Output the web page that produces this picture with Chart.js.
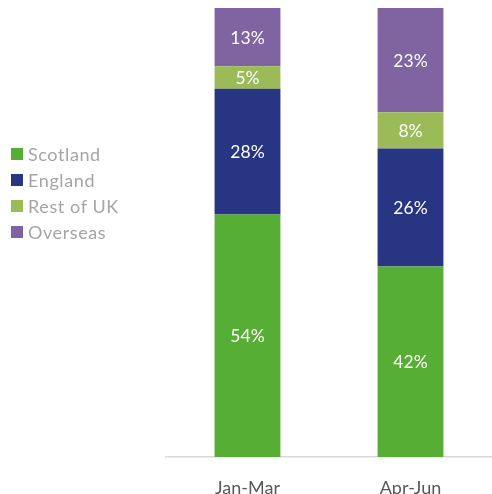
<!DOCTYPE html>
<html>
<head>
<meta charset="utf-8">
<script src="https://cdn.jsdelivr.net/npm/chart.js@4/dist/chart.umd.min.js"></script>
<style>
  html, body { margin: 0; padding: 0; background: #fff; }
  #wrap { position: relative; width: 492px; height: 494px; }
  #legend { position: absolute; left: 11px; top: 141px; font-family: Lato, "Liberation Sans", sans-serif; font-size: 18px; color: #a5a5a5; letter-spacing: 0.6px; }
  .item { display: flex; align-items: center; height: 26px; }
  .box { width: 12px; height: 12px; margin-right: 5px; }
</style>
</head>
<body>
<div id="wrap">
  <canvas id="c" width="492" height="494"></canvas>
  <div id="legend"></div>
</div>
<script>
// Quarters and each region's share of visitors (%)
const categories = ['Jan-Mar', 'Apr-Jun'];
const scotland   = [54, 42];
const england    = [28, 26];
const restOfUK   = [5, 8];
const overseas   = [13, 23];

const seriesNames  = ['Scotland', 'England', 'Rest of UK', 'Overseas'];
const seriesValues = [scotland, england, restOfUK, overseas];
const seriesColors = ['#57ae35', '#283583', '#9bbb59', '#8064a2'];

// Each bar is scaled so its segments fill 100%
const totals = categories.map((_, i) => seriesValues.reduce((s, v) => s + v[i], 0));

const datasets = seriesNames.map((name, k) => ({
  label: name,
  data: seriesValues[k].map((v, i) => v / totals[i] * 100),
  raw: seriesValues[k],
  backgroundColor: seriesColors[k],
  borderWidth: 0,
  barPercentage: 1,
  categoryPercentage: 0.404
}));

// White percentage labels centred in each segment
const segmentLabels = {
  id: 'segmentLabels',
  afterDatasetsDraw(chart) {
    const ctx = chart.ctx;
    ctx.save();
    ctx.fillStyle = '#ffffff';
    ctx.font = '17.5px Lato, "Liberation Sans", sans-serif';
    ctx.textAlign = 'center';
    ctx.textBaseline = 'middle';
    chart.data.datasets.forEach((ds, k) => {
      chart.getDatasetMeta(k).data.forEach((bar, i) => {
        const mid = (bar.y + bar.base) / 2;
        ctx.fillText(ds.raw[i] + '%', bar.x, mid + 1);
      });
    });
    ctx.restore();
  }
};

new Chart(document.getElementById('c'), {
  type: 'bar',
  data: { labels: categories, datasets },
  options: {
    responsive: false,
    animation: false,
    layout: { padding: { top: 8, left: 166, right: -2, bottom: 0 } },
    plugins: { legend: { display: false }, tooltip: { enabled: false } },
    scales: {
      x: {
        stacked: true,
        grid: { display: false, drawTicks: false },
        border: { display: true, color: '#d9d9d9', width: 1.5 },
        ticks: {
          color: '#595959',
          padding: 20,
          font: { family: 'Lato, "Liberation Sans", sans-serif', size: 18 }
        },
        afterFit(scale) { scale.height = 37; }
      },
      y: {
        stacked: true,
        display: false,
        min: 0,
        max: 100
      }
    }
  },
  plugins: [segmentLabels]
});

// Legend listing the regions
const legend = document.getElementById('legend');
seriesNames.forEach((name, k) => {
  const item = document.createElement('div');
  item.className = 'item';
  const box = document.createElement('span');
  box.className = 'box';
  box.style.background = seriesColors[k];
  const txt = document.createElement('span');
  txt.textContent = name;
  item.appendChild(box);
  item.appendChild(txt);
  legend.appendChild(item);
});
</script>
</body>
</html>
